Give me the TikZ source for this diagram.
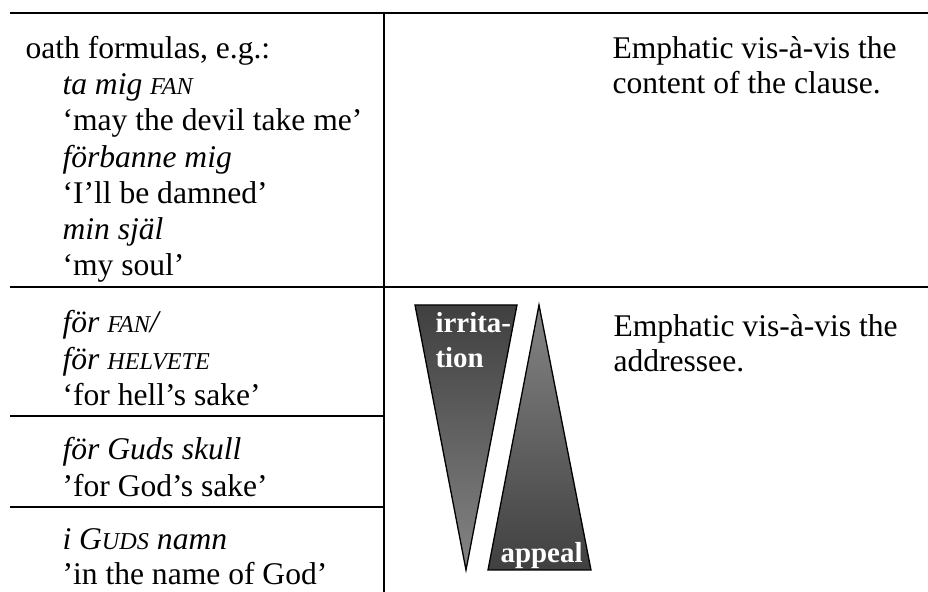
\documentclass[tikz,border=0pt]{standalone}
\usepackage{fontspec}
\setmainfont{Liberation Serif}
\newcommand\fakesc[1]{{\fontsize{9.2pt}{10pt}\selectfont #1}}
\tikzset{
  txt/.style={anchor=base west, inner sep=0pt, font=\fontsize{12pt}{14pt}\selectfont},
  lbl/.style={anchor=base west, inner sep=0pt, text=white, font=\bfseries\fontsize{11pt}{13pt}\selectfont},
  rulel/.style={line width=0.8pt},
  tri/.style={draw=black, line width=0.5pt}
}
\begin{document}
\begin{tikzpicture}[x=0.38pt, y=-0.38pt]
\useasboundingbox (0,0) rectangle (928,592);
% rules
\draw[rulel] (10,13) -- (928,13);
\draw[rulel] (10,287) -- (928,287);
\draw[rulel] (10,416) -- (384,416);
\draw[rulel] (10,507) -- (384,507);
\draw[rulel] (384,13) -- (384,592);
% top-left block
\node[txt] (t1) at (25,59) {oath formulas, e.g.:};
\node[txt] (t2) at (62,95) {\textit{ta mig \fakesc{FAN}}};
\node[txt] (t3) at (62,131) {‘may the devil take me’};
\node[txt] (t4) at (62,168) {\textit{förbanne mig}};
\node[txt] (t5) at (62,204) {‘I’ll be damned’};
\node[txt] (t6) at (62,240) {\textit{min själ}};
\node[txt] (t7) at (62,276) {‘my soul’};
% top-right
\node[txt] (r1) at (612,59) {Emphatic vis-à-vis the};
\node[txt] (r2) at (612,94) {content of the clause.};
% bottom-left
\node[txt] (b1) at (62,333) {\textit{för \fakesc{FAN}/}};
\node[txt] (b2) at (62,370) {\textit{för \fakesc{HELVETE}}};
\node[txt] (b3) at (62,406) {‘for hell’s sake’};
\node[txt] (b4) at (62,460) {\textit{för Guds skull}};
\node[txt] (b5) at (62,497) {’for God’s sake’};
\node[txt] (b6) at (62,550) {\textit{i G\fakesc{UDS} namn}};
\node[txt] (b7) at (62,585) {’in the name of God’};
% bottom-right
\node[txt] (r3) at (613,337) {Emphatic vis-à-vis the};
\node[txt] (r4) at (613,372) {addressee.};
% triangles
\shade[tri, top color=black!75, bottom color=black!48] (415,305) -- (517,305) -- (466,570) -- cycle;
\shade[tri, top color=black!48, bottom color=black!75] (539,305) -- (591,570) -- (488,570) -- cycle;
\node[lbl] (irr) at (435,333) {irrita-};
\node[lbl] (tion) at (435,368) {tion};
\node[lbl] (app) at (500,563) {appeal};
\end{tikzpicture}
\end{document}
